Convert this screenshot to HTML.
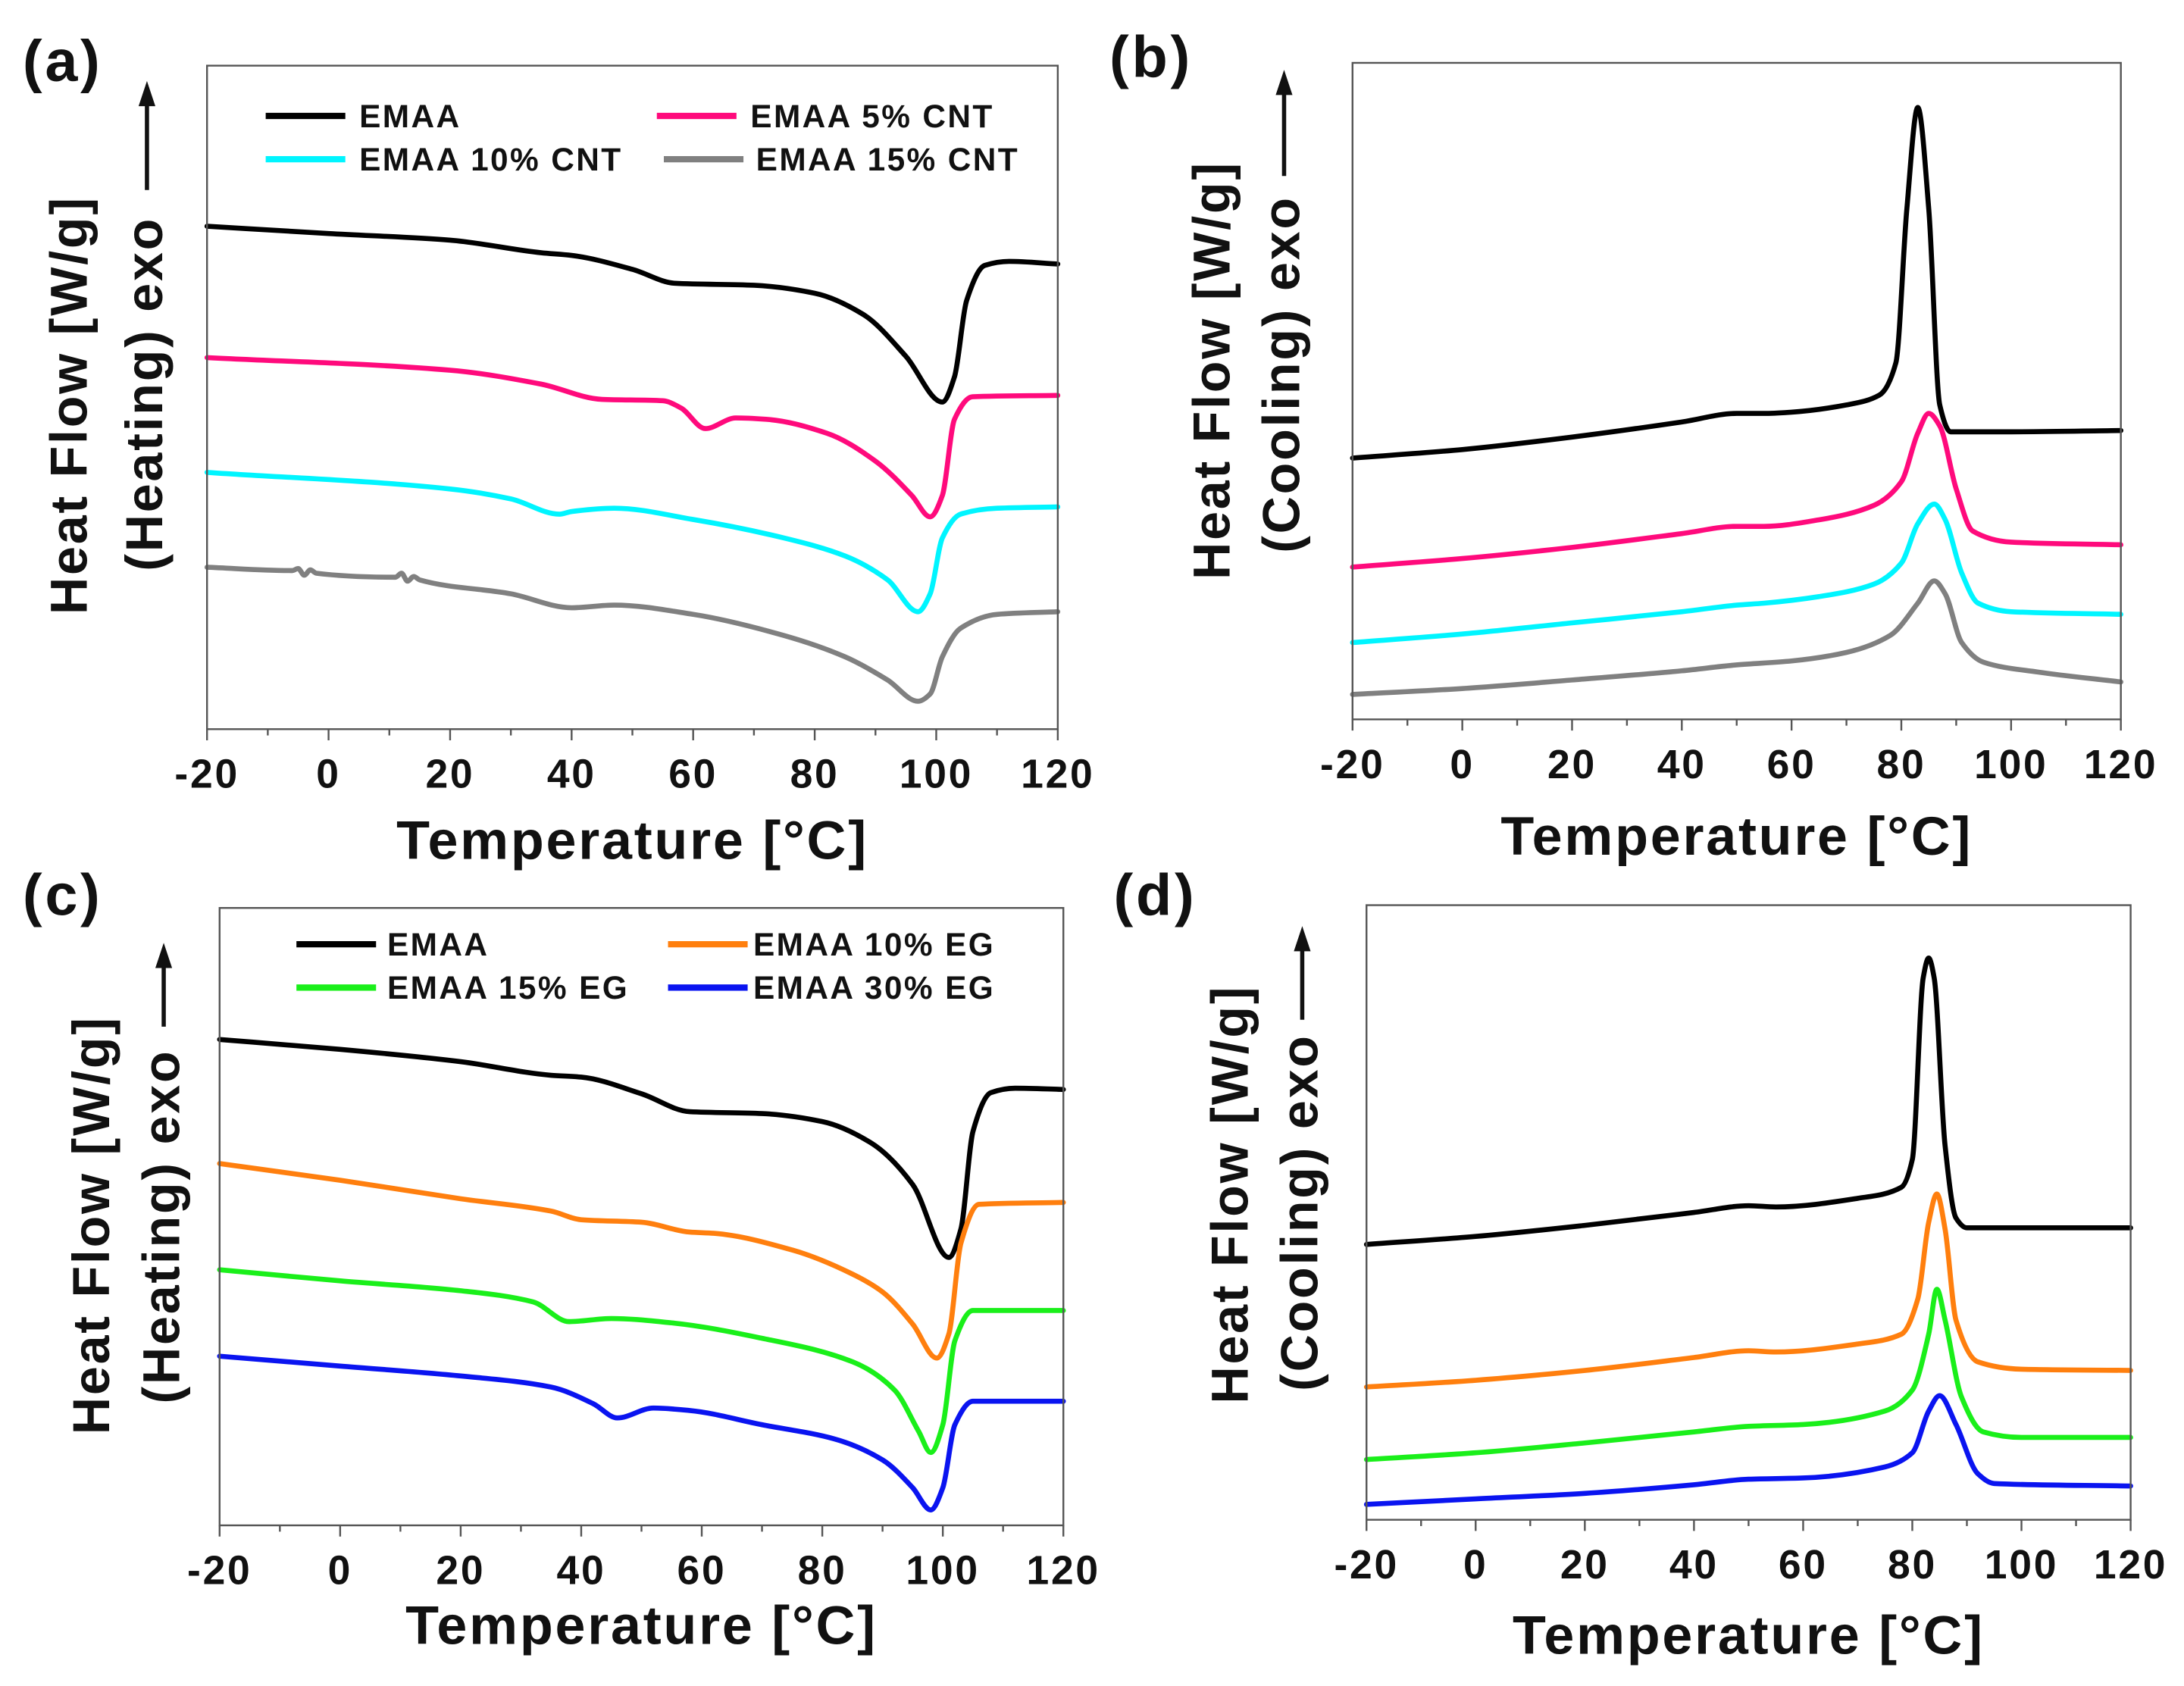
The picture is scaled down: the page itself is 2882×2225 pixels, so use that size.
<!DOCTYPE html>
<html><head><meta charset="utf-8"><style>
html,body{margin:0;padding:0;background:#fff;}
svg{display:block;font-family:"Liberation Sans",Arial,sans-serif;font-weight:bold;}
</style></head><body>
<svg id="fig" width="2882" height="2225" viewBox="0 0 1563 1207" xmlns="http://www.w3.org/2000/svg"></svg>
<script>
// ---- data (T in °C, heat flow in arbitrary units 0..100 of plot height) ----
const xTicks = [-20, 0, 20, 40, 60, 80, 100, 120];
const aNames = ["EMAA", "EMAA 5% CNT", "EMAA 10% CNT", "EMAA 15% CNT"];
const aT = [
 [-20,0,20,35,40,50,57,70,80,88,95,101,103,105,108,112,120],
 [-20,20,35,45,55,58,62,67,72,82,90,96,99,101,103,106,120],
 [-20,20,30,38,40,47,60,75,85,92,97,99,101,104,110,120],
 [-20,-6,-5,-4,-3,-2,11,12,13,14,15,30,40,47,60,75,85,92,97,99,101,104,110,120]
];
const aV = [
 [75.8,74.7,73.7,71.8,71.4,69.3,67.2,66.9,65.7,62.5,56.2,49.3,53.1,64.6,69.9,70.5,70.1],
 [56.0,54.1,52.0,49.7,49.5,48.4,45.3,46.9,46.7,44.6,40.4,35.2,32.0,35.2,46.7,50.1,50.3],
 [38.7,36.2,34.7,32.4,32.8,33.3,31.6,28.8,26.1,22.5,17.7,20.4,28.8,32.4,33.3,33.5],
 [24.4,23.9,24.2,23.2,24.0,23.5,22.9,23.5,22.3,23.0,22.5,20.4,18.3,18.7,17.3,14.1,10.9,7.4,4.2,5.3,10.9,15.2,17.3,17.7]
];
const bT = [
 [-20,0,20,40,50,55,60,70,76,79,81,83,85,87,89,100,120],
 [-20,0,20,40,50,55,65,75,80,83,85,87,90,93,100,120],
 [-20,0,20,40,50,55,65,75,80,83,86,88,91,94,100,120],
 [-20,0,20,40,50,60,70,78,83,86,88,91,95,105,120]
];
const bV = [
 [39.8,41.1,43.0,45.3,46.6,46.6,46.8,47.9,49.4,54.3,77.7,93.2,77.7,47.9,43.8,43.8,44.0],
 [23.2,24.5,26.2,28.3,29.4,29.4,30.4,32.6,36.2,43.6,46.6,44.7,35.1,28.7,27.0,26.6],
 [11.7,13.0,14.7,16.4,17.4,17.7,18.7,20.6,23.8,29.8,32.8,30.4,22.3,17.7,16.4,16.0],
 [3.8,4.7,6.0,7.4,8.3,8.9,10.2,12.8,17.7,21.1,19.1,11.7,8.7,7.2,5.7]
];
const cNames = ["EMAA", "EMAA 10% EG", "EMAA 15% EG", "EMAA 30% EG"];
const cT = [
 [-20,0,20,35,40,50,58,70,80,88,95,101,103,105,108,112,120],
 [-20,0,20,35,40,50,58,62,75,85,90,95,99,101,103,106,120],
 [-20,0,20,32,38,45,55,70,85,92,96,98,100,102,105,120],
 [-20,0,20,35,42,46,52,58,70,82,90,95,98,100,102,105,120]
];
const cV = [
 [78.7,77.1,75.1,72.9,72.6,69.9,67.0,66.7,65.4,62.0,55.2,43.4,48.0,63.8,70.1,70.8,70.6],
 [58.6,55.9,52.9,50.9,49.5,49.1,47.5,47.3,44.6,40.7,37.8,32.6,27.1,31.0,45.7,52.0,52.3],
 [41.4,39.6,38.0,36.2,33.0,33.5,32.8,30.3,26.5,21.9,15.2,11.8,16.3,29.9,34.8,34.8],
 [27.4,25.8,24.2,22.4,19.7,17.4,19.0,18.6,16.3,14.0,10.6,6.1,2.5,6.1,16.3,20.1,20.1]
];
const dT = [
 [-20,0,20,40,50,55,70,78,80,82,83,84,86,88,90,120],
 [-20,0,20,40,50,55,70,78,81,83,84.5,86,88,92,100,120],
 [-20,0,20,40,50,60,75,80,83,84.5,86,89,93,100,120],
 [-20,0,20,40,50,60,75,80,83,85,88,92,95,120]
];
const dV = [
 [44.8,46.1,47.9,50.0,51.1,50.9,52.3,54.1,58.6,88.2,91.4,88.2,60.9,49.1,47.5,47.5],
 [21.6,22.7,24.3,26.4,27.5,27.3,28.6,30.2,35.9,48.4,53.0,47.3,32.5,25.7,24.5,24.3],
 [9.8,10.9,12.5,14.3,15.2,15.5,17.7,21.1,30.2,37.5,32.5,20.0,14.3,13.4,13.4],
 [2.5,3.4,4.3,5.7,6.6,6.8,8.6,10.9,17.7,20.2,15.5,7.5,5.9,5.5]
];
const cntColors = ["#000000", "#ff0a7c", "#00f5ff", "#808080"];
const egColors = ["#000000", "#ff7f0e", "#1aef1a", "#0a14f0"];

const NS = "http://www.w3.org/2000/svg";
const fig = document.getElementById("fig");
function mk(tag, attrs, parent, text) {
  const e = document.createElementNS(NS, tag);
  for (const k in attrs) e.setAttribute(k, attrs[k]);
  if (text !== undefined) e.textContent = text;
  (parent || fig).appendChild(e);
  return e;
}
function monoPath(pts) {
  const n = pts.length, dx = [], m = [], t = [];
  for (let i = 0; i < n - 1; i++) { dx[i] = pts[i+1][0] - pts[i][0]; m[i] = (pts[i+1][1] - pts[i][1]) / dx[i]; }
  t[0] = m[0]; t[n-1] = m[n-2];
  for (let i = 1; i < n - 1; i++) {
    if (m[i-1] * m[i] <= 0) t[i] = 0;
    else { const w1 = 2*dx[i] + dx[i-1], w2 = dx[i] + 2*dx[i-1]; t[i] = (w1 + w2) / (w1/m[i-1] + w2/m[i]); }
  }
  let d = "M" + pts[0][0].toFixed(2) + "," + pts[0][1].toFixed(2);
  for (let i = 0; i < n - 1; i++) {
    const h = dx[i] / 3;
    d += "C" + (pts[i][0] + h).toFixed(2) + "," + (pts[i][1] + t[i]*h).toFixed(2) + " " +
         (pts[i+1][0] - h).toFixed(2) + "," + (pts[i+1][1] - t[i+1]*h).toFixed(2) + " " +
         pts[i+1][0].toFixed(2) + "," + pts[i+1][1].toFixed(2);
  }
  return d;
}

function panel(cfg) {
  const g = mk("g", {});
  
  
  const {x0, x1, y0, y1} = cfg;
  const xs = t => x0 + (t + 20) / 140 * (x1 - x0);
  const ys = v => y1 - v / 100 * (y1 - y0);
  cfg.T.forEach((arr, i) => {
    const pts = arr.map((t, j) => [xs(t), ys(cfg.V[i][j])]);
    const p = mk("path", {d: monoPath(pts), fill: "none", stroke: cfg.colors[i], "stroke-width": 3.6, "stroke-linejoin": "round", "stroke-linecap": "round"}, g);
    
    
  });
  const fr = mk("rect", {x: x0, y: y0, width: x1 - x0, height: y1 - y0, fill: "none", stroke: "#555", "stroke-width": 1.3}, g);
  
  
  for (let t = -20; t <= 120; t += 10) {
    const major = t % 20 === 0;
    mk("line", {x1: xs(t), x2: xs(t), y1: y1, y2: y1 + (major ? 8 : 4.5), stroke: "#555", "stroke-width": 1.3}, g);
  }
  xTicks.forEach(t => {
    const tl = mk("text", {x: xs(t), y: y1 + 42, "text-anchor": "middle", "font-size": 29, "letter-spacing": 1.5, fill: "#111"}, g, String(t));
    
    
  });
  const xt = mk("text", {x: (x0 + x1) / 2, y: cfg.titleY, "text-anchor": "middle", "font-size": 39, "letter-spacing": 1.5, fill: "#111"}, g, "Temperature [°C]");
  
  
  const pl = mk("text", {x: cfg.lx, y: cfg.ly, "font-size": 42, "letter-spacing": 2, fill: "#111"}, g, cfg.label);
  
  
  const yl1 = mk("text", {transform: `translate(${cfg.yl1x},${cfg.yl1c}) rotate(-90)`, "text-anchor": "middle", "font-size": 37, "letter-spacing": 1.5, fill: "#111"}, g, "Heat Flow [W/g]");
  
  
  const yl2 = mk("text", {transform: `translate(${cfg.yl2x},${cfg.yl2c}) rotate(-90)`, "text-anchor": "middle", "font-size": 37, "letter-spacing": 1.5, fill: "#111"}, g, cfg.mode);
  
  
  const ax = cfg.yl2x - 11;
  const ar = mk("g", {}, g);
  
  
  mk("line", {x1: ax, x2: ax, y1: cfg.arrB, y2: cfg.arrT + 14, stroke: "#111", "stroke-width": 3}, ar);
  mk("polygon", {points: `${ax - 6},${cfg.arrT + 18} ${ax + 6},${cfg.arrT + 18} ${ax},${cfg.arrT}`, fill: "#111"}, ar);
  if (cfg.legend) {
    cfg.legend.forEach((L, i) => {
      const lg = mk("g", {}, g);
      
      
      mk("line", {x1: L[0], x2: L[0] + 57, y1: L[1], y2: L[1], stroke: cfg.colors[i], "stroke-width": 4.5}, lg);
      mk("text", {x: L[2], y: L[1] + 8, "font-size": 23, "letter-spacing": 1.3, fill: "#111"}, lg, cfg.names[i]);
    });
  }
}

panel({id: "a", x0: 148, x1: 757, y0: 47, y1: 522, T: aT, V: aV, colors: cntColors, names: aNames,
  titleY: 615, label: "(a)", lx: 16, ly: 58, yl1x: 62, yl1c: 290, yl2x: 116, yl2c: 282, mode: "(Heating) exo", arrT: 58, arrB: 136,
  legend: [[190, 83, 257], [470, 83, 537], [190, 114, 257], [475, 114, 541]]});
panel({id: "b", x0: 968, x1: 1518, y0: 45, y1: 515, T: bT, V: bV, colors: cntColors,
  titleY: 612, label: "(b)", lx: 794, ly: 55, yl1x: 880, yl1c: 265, yl2x: 930, yl2c: 268, mode: "(Cooling) exo", arrT: 50, arrB: 126});
panel({id: "c", x0: 157, x1: 761, y0: 650, y1: 1092, T: cT, V: cV, colors: egColors, names: cNames,
  titleY: 1177, label: "(c)", lx: 16, ly: 655, yl1x: 78, yl1c: 877, yl2x: 128, yl2c: 878, mode: "(Heating) exo", arrT: 675, arrB: 735,
  legend: [[212, 676, 277], [478, 676, 539], [212, 707, 277], [478, 707, 539]]});
panel({id: "d", x0: 978, x1: 1525, y0: 648, y1: 1088, T: dT, V: dV, colors: egColors,
  titleY: 1184, label: "(d)", lx: 797, ly: 655, yl1x: 893, yl1c: 855, yl2x: 943, yl2c: 868, mode: "(Cooling) exo", arrT: 663, arrB: 730});
</script>
</body></html>
